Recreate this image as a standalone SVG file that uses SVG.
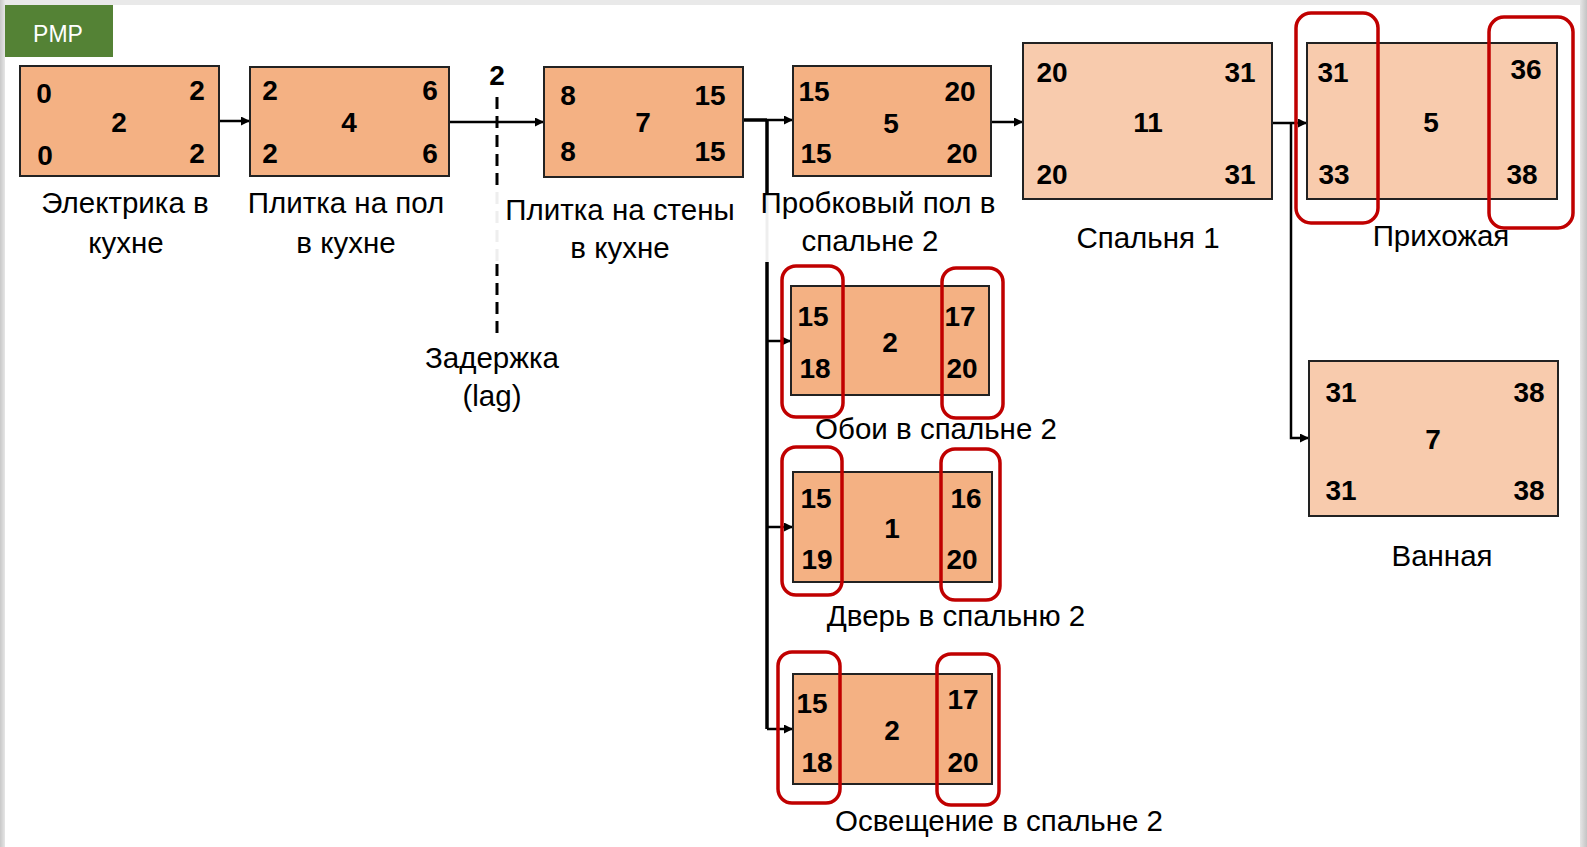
<svg xmlns="http://www.w3.org/2000/svg" width="1587" height="847" viewBox="0 0 1587 847">
<style>
.box{fill:#F4B183;stroke:#222;stroke-width:2}
.boxl{fill:#F8CBAD;stroke:#222;stroke-width:2}
.red{fill:none;stroke:#C00000;stroke-width:3.5}
.num{font-family:"Liberation Sans","DejaVu Sans",sans-serif;font-weight:bold;font-size:28px;fill:#000;text-anchor:middle}
.lbl{font-family:"Liberation Sans","DejaVu Sans",sans-serif;font-size:29.5px;fill:#000;text-anchor:middle}
.ln{fill:none;stroke:#000;stroke-width:2.5}
.thick{fill:none;stroke:#000;stroke-width:3.5}
.faint{fill:none;stroke:#eeeeee;stroke-width:3}
</style>
<defs>
<linearGradient id="gl" x1="0" x2="1" y1="0" y2="0"><stop offset="0" stop-color="#c8c8c8"/><stop offset="1" stop-color="#e6e6e6"/></linearGradient>
<linearGradient id="gr" x1="0" x2="1" y1="0" y2="0"><stop offset="0" stop-color="#e6e6e6"/><stop offset="1" stop-color="#c4c4c4"/></linearGradient>
<marker id="arr" viewBox="0 0 10 10" refX="10" refY="5" markerWidth="10" markerHeight="9" markerUnits="userSpaceOnUse" orient="auto"><path d="M0,0 L10,5 L0,10 z" fill="#000"/></marker>
</defs>
<g id="frame">
<rect x="0" y="0" width="1587" height="847" fill="#e9e9e9"/>
<rect x="0" y="0" width="5" height="847" fill="url(#gl)"/>
<rect x="1580" y="0" width="7" height="847" fill="url(#gr)"/>
<rect x="5" y="5" width="1575" height="842" fill="#ffffff"/>
</g>
<g id="pmp">
<rect x="5" y="5" width="108" height="52" fill="#548235"/>
<text x="58" y="42" font-family="Liberation Sans, Arial, sans-serif" font-size="23" fill="#fff" text-anchor="middle">PMP</text>
</g>
<g id="connectors">
<line class="ln" x1="219" y1="121" x2="250" y2="121" marker-end="url(#arr)"/>
<line class="ln" x1="449" y1="122" x2="544" y2="122" marker-end="url(#arr)"/>
<path class="thick" d="M743,120 H767"/>
<line class="ln" x1="767" y1="120" x2="793" y2="120" marker-end="url(#arr)"/>
<path class="thick" d="M767,120 V195"/>
<path class="faint" d="M767,195 V262"/>
<path class="thick" d="M767,262 V729"/>
<line class="ln" x1="767" y1="341" x2="791" y2="341" marker-end="url(#arr)"/>
<line class="ln" x1="767" y1="527" x2="793" y2="527" marker-end="url(#arr)"/>
<line class="ln" x1="767" y1="729" x2="793" y2="729" marker-end="url(#arr)"/>
<line class="ln" x1="991" y1="122" x2="1023" y2="122" marker-end="url(#arr)"/>
<line class="ln" x1="1272" y1="123" x2="1307" y2="123" marker-end="url(#arr)"/>
<path class="ln" d="M1291,123 V438 H1309" marker-end="url(#arr)"/>
</g>
<g id="lag">
<line x1="497" y1="97" x2="497" y2="192" stroke="#000" stroke-width="3" stroke-dasharray="12 7"/>
<line x1="497" y1="192" x2="497" y2="262" stroke="#eeeeee" stroke-width="3" stroke-dasharray="12 7"/>
<line x1="497" y1="264" x2="497" y2="340" stroke="#000" stroke-width="3" stroke-dasharray="12 7"/>
<text class="num" x="497" y="85" font-size="26">2</text>
<text class="lbl" x="492" y="368">Задержка</text>
<text class="lbl" x="492" y="406">(lag)</text>
</g>
<g id="n1">
<rect class="box" x="20" y="66" width="199" height="110"/>
<text class="num" x="44" y="103">0</text><text class="num" x="197" y="100">2</text>
<text class="num" x="119" y="132">2</text>
<text class="num" x="45" y="165">0</text><text class="num" x="197" y="163">2</text>
<text class="lbl" x="125" y="213">Электрика в</text><text class="lbl" x="126" y="253">кухне</text>
</g>
<g id="n2">
<rect class="box" x="250" y="67" width="199" height="109"/>
<text class="num" x="270" y="100">2</text><text class="num" x="430" y="100">6</text>
<text class="num" x="349" y="132">4</text>
<text class="num" x="270" y="163">2</text><text class="num" x="430" y="163">6</text>
<text class="lbl" x="346" y="213">Плитка на пол</text><text class="lbl" x="346" y="253">в кухне</text>
</g>
<g id="n3">
<rect class="box" x="544" y="67" width="199" height="110"/>
<text class="num" x="568" y="105">8</text><text class="num" x="710" y="105">15</text>
<text class="num" x="643" y="132">7</text>
<text class="num" x="568" y="161">8</text><text class="num" x="710" y="161">15</text>
<text class="lbl" x="620" y="220">Плитка на стены</text><text class="lbl" x="620" y="258">в кухне</text>
</g>
<g id="n4">
<rect class="box" x="793" y="66" width="198" height="110"/>
<text class="num" x="814" y="101">15</text><text class="num" x="960" y="101">20</text>
<text class="num" x="891" y="133">5</text>
<text class="num" x="816" y="163">15</text><text class="num" x="962" y="163">20</text>
<text class="lbl" x="878" y="213">Пробковый пол в</text><text class="lbl" x="870" y="251">спальне 2</text>
</g>
<g id="n5">
<rect class="boxl" x="1023" y="43" width="249" height="156"/>
<text class="num" x="1052" y="82">20</text><text class="num" x="1240" y="82">31</text>
<text class="num" x="1148" y="132">11</text>
<text class="num" x="1052" y="184">20</text><text class="num" x="1240" y="184">31</text>
<text class="lbl" x="1148" y="248">Спальня 1</text>
</g>
<g id="n6">
<rect class="boxl" x="1307" y="43" width="250" height="156"/>
<text class="num" x="1333" y="82">31</text><text class="num" x="1526" y="79">36</text>
<text class="num" x="1431" y="132">5</text>
<text class="num" x="1334" y="184">33</text><text class="num" x="1522" y="184">38</text>
<rect class="red" x="1296" y="13" width="82" height="210" rx="15"/>
<rect class="red" x="1489" y="17" width="84" height="211" rx="15"/>
<text class="lbl" x="1441" y="246">Прихожая</text>
</g>
<g id="n7">
<rect class="boxl" x="1309" y="361" width="249" height="155"/>
<text class="num" x="1341" y="402">31</text><text class="num" x="1529" y="402">38</text>
<text class="num" x="1433" y="449">7</text>
<text class="num" x="1341" y="500">31</text><text class="num" x="1529" y="500">38</text>
<text class="lbl" x="1442" y="566">Ванная</text>
</g>
<g id="n8">
<rect class="box" x="791" y="286" width="198" height="109"/>
<text class="num" x="813" y="326">15</text><text class="num" x="960" y="326">17</text>
<text class="num" x="890" y="352">2</text>
<text class="num" x="815" y="378">18</text><text class="num" x="962" y="378">20</text>
<rect class="red" x="782" y="266" width="61" height="151" rx="14"/>
<rect class="red" x="942" y="268" width="61" height="150" rx="14"/>
<text class="lbl" x="936" y="439">Обои в спальне 2</text>
</g>
<g id="n9">
<rect class="box" x="793" y="472" width="199" height="110"/>
<text class="num" x="816" y="508">15</text><text class="num" x="966" y="508">16</text>
<text class="num" x="892" y="538">1</text>
<text class="num" x="817" y="569">19</text><text class="num" x="962" y="569">20</text>
<rect class="red" x="782" y="447" width="60" height="148" rx="14"/>
<rect class="red" x="941" y="449" width="59" height="151" rx="14"/>
<text class="lbl" x="956" y="626">Дверь в спальню 2</text>
</g>
<g id="n10">
<rect class="box" x="793" y="674" width="199" height="110"/>
<text class="num" x="812" y="713">15</text><text class="num" x="963" y="709">17</text>
<text class="num" x="892" y="740">2</text>
<text class="num" x="817" y="772">18</text><text class="num" x="963" y="772">20</text>
<rect class="red" x="778" y="652" width="62" height="151" rx="14"/>
<rect class="red" x="937" y="654" width="62" height="151" rx="14"/>
<text class="lbl" x="999" y="831">Освещение в спальне 2</text>
</g>
</svg>
